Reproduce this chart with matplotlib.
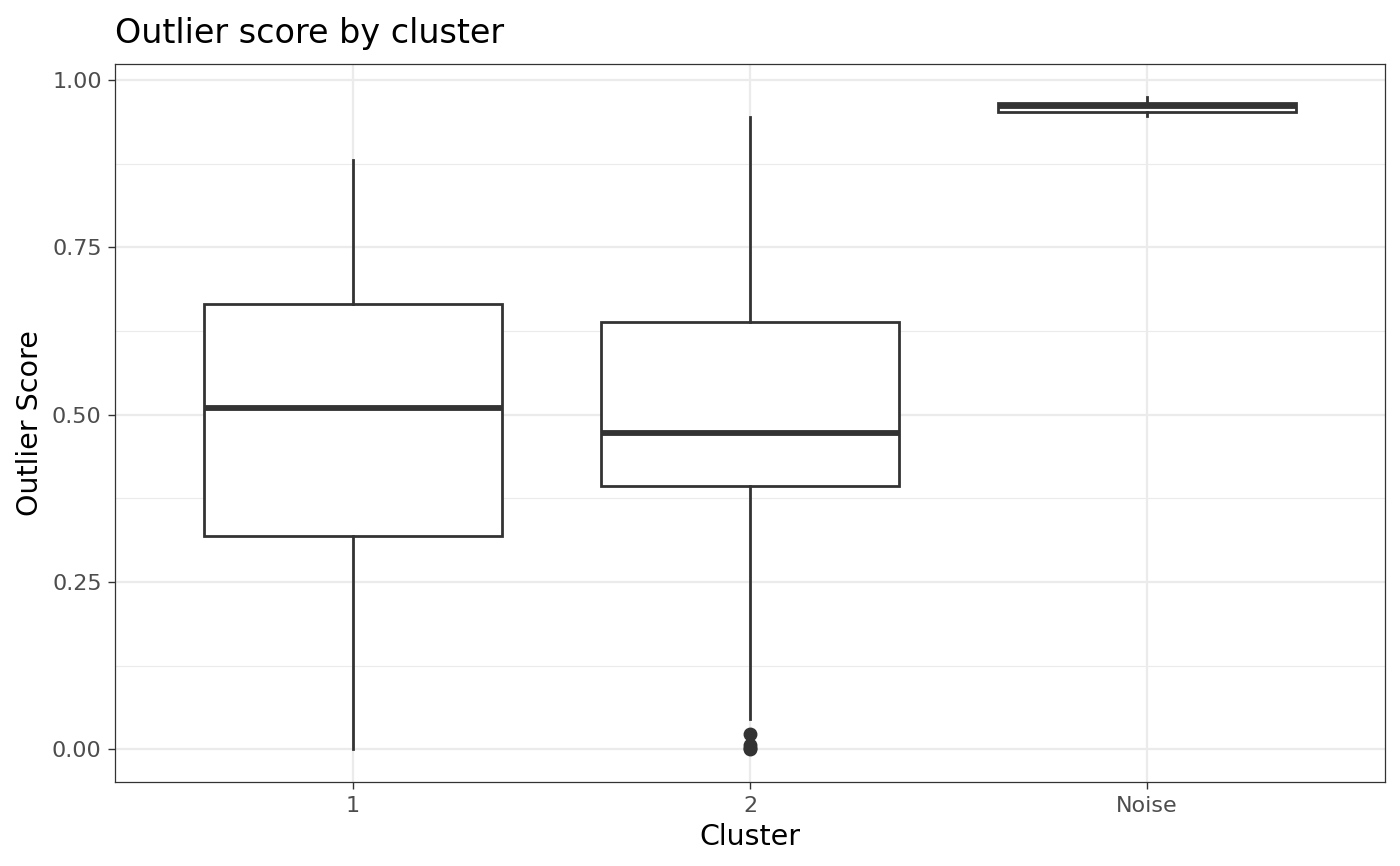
import matplotlib
matplotlib.use("Agg")
import matplotlib.pyplot as plt
from matplotlib.ticker import MultipleLocator

plt.rcParams['font.family'] = ['DejaVu Sans']

categories = ["1", "2", "Noise"]
whisker_low = [0.000, 0.046, 0.947]
q1 = [0.319, 0.394, 0.953]
median = [0.510, 0.473, 0.961]
q3 = [0.666, 0.639, 0.966]
whisker_high = [0.881, 0.945, 0.975]
outliers = [[], [0.023, 0.006, 0.002, 0.000], []]

y_ticks = [0.00, 0.25, 0.50, 0.75, 1.00]
y_tick_labels = ["0.00", "0.25", "0.50", "0.75", "1.00"]

fig = plt.figure(figsize=(14, 8.66), dpi=100)
ax = fig.add_axes([0.0821, 0.0970, 0.9893 - 0.0821, 0.9261 - 0.0970])

stats = []
for i, c in enumerate(categories):
    stats.append(dict(label=c, whislo=whisker_low[i], q1=q1[i], med=median[i],
                      q3=q3[i], whishi=whisker_high[i], fliers=outliers[i]))

dark = "#333333"
ax.bxp(stats, positions=[1, 2, 3], widths=0.75, patch_artist=True,
       showcaps=False,
       boxprops=dict(facecolor="white", edgecolor=dark, linewidth=2.0),
       whiskerprops=dict(color=dark, linewidth=2.0),
       medianprops=dict(color=dark, linewidth=4.2, solid_capstyle="butt"),
       flierprops=dict(marker="o", markerfacecolor=dark, markeredgecolor=dark,
                       markersize=9, linestyle="none"),
       zorder=3)

ax.set_xlim(0.4, 3.6)
ax.set_ylim(-0.0488, 1.0242)
ax.set_xticks([1, 2, 3])
ax.set_xticklabels(categories)
ax.set_yticks(y_ticks)
ax.set_yticklabels(y_tick_labels)
ax.yaxis.set_minor_locator(MultipleLocator(0.125))

ax.set_facecolor("white")
ax.grid(which="major", color="#EBEBEB", linewidth=1.6, zorder=0)
ax.grid(which="minor", axis="y", color="#EBEBEB", linewidth=0.8, zorder=0)
ax.set_axisbelow(True)
for s in ax.spines.values():
    s.set_color(dark)
    s.set_linewidth(0.9)

ax.tick_params(axis="both", which="major", colors=dark, labelcolor="#4D4D4D",
               labelsize=16, length=5, width=1.0)
ax.tick_params(axis="x", which="major", pad=4.8)
ax.tick_params(axis="y", which="major", pad=4.5)
ax.tick_params(axis="y", which="minor", length=0)

ax.set_xlabel("Cluster", fontsize=20.5, color="black", labelpad=5)
ax.set_ylabel("Outlier Score", fontsize=20.5, color="black", labelpad=6)
ax.set_title("Outlier score by cluster", fontsize=24, loc="left", color="black", pad=15)

fig.savefig("out.png", dpi=100)
